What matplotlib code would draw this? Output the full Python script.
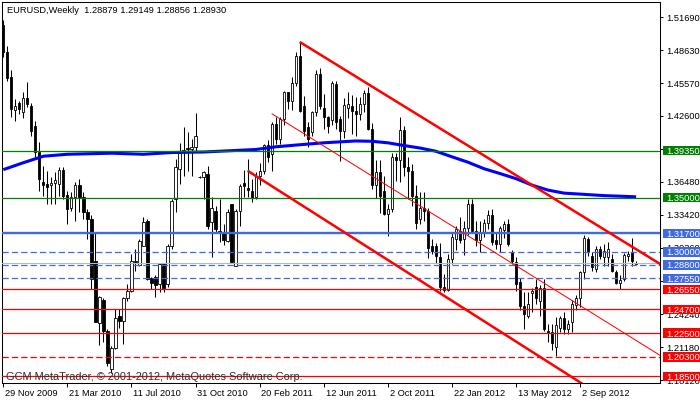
import matplotlib
matplotlib.use("Agg")
import matplotlib.pyplot as plt
import matplotlib.transforms as mtransforms
from matplotlib.patches import Rectangle

plt.rcParams['font.family'] = ['Liberation Sans', 'DejaVu Sans']

# ---------------- data (weekly EURUSD bars, index 0 = week of 29 Nov 2009) ----------------
opens = [
    1.5100, 1.4850, 1.4620, 1.4310, 1.4380, 1.4290, 1.4420, 1.4350, 1.4160, 1.3920,
    1.3650, 1.3630, 1.3620, 1.3640, 1.3630, 1.3760, 1.3530, 1.3410, 1.3505, 1.3620,
    1.3510, 1.3370, 1.3300, 1.2920, 1.2340, 1.2560, 1.2270, 1.1920, 1.2110, 1.2410,
    1.2360, 1.2570, 1.2640, 1.2910, 1.2880, 1.3050, 1.3290, 1.2760, 1.2770, 1.2700,
    1.2890, 1.2700, 1.3050, 1.3490, 1.3770, 1.3920, 1.3960, 1.3950, 1.3970, 1.3695,
    1.3690, 1.3720, 1.3280, 1.3380, 1.3190, 1.3180, 1.3100, 1.3440, 1.2870, 1.3380,
    1.3640, 1.3590, 1.3560, 1.3510, 1.3700, 1.3750, 1.3985, 1.3900, 1.4180, 1.4040,
    1.4225, 1.4475, 1.4390, 1.4560, 1.4810, 1.4350, 1.4150, 1.4110, 1.4290, 1.4640,
    1.4330, 1.4250, 1.4220, 1.4550, 1.4230, 1.4120, 1.4330, 1.4350, 1.4300, 1.4270,
    1.4370, 1.4470, 1.4140, 1.3620, 1.3740, 1.3560, 1.3350, 1.3395, 1.3880, 1.3845,
    1.4130, 1.3780, 1.3750, 1.3520, 1.3300, 1.3410, 1.3375, 1.3050, 1.3050, 1.2950,
    1.2680, 1.2645, 1.2935, 1.3120, 1.3195, 1.3120, 1.3220, 1.3445, 1.3190, 1.3110,
    1.3175, 1.3265, 1.3340, 1.3110, 1.3070, 1.3200, 1.3260, 1.3000, 1.2910, 1.2720,
    1.2500, 1.2410, 1.2620, 1.2680, 1.2550, 1.2670, 1.2265, 1.2260, 1.2125, 1.2300,
    1.2390, 1.2290, 1.2350, 1.2510, 1.2570, 1.2815, 1.3120, 1.2960, 1.2845, 1.3030,
    1.2955, 1.2955, 1.2935, 1.2815, 1.2710, 1.2745, 1.2965, 1.2999, 1.28879]
highs = [
    1.5140, 1.4900, 1.4680, 1.4410, 1.4390, 1.4480, 1.4570, 1.4380, 1.4210, 1.4020,
    1.3790, 1.3750, 1.3690, 1.3740, 1.3780, 1.3780, 1.3560, 1.3550, 1.3650, 1.3670,
    1.3550, 1.3400, 1.3340, 1.3180, 1.2590, 1.2570, 1.2290, 1.2130, 1.2470, 1.2470,
    1.2580, 1.2700, 1.2980, 1.3030, 1.3120, 1.3320, 1.3300, 1.2770, 1.2790, 1.2900,
    1.2900, 1.3070, 1.3490, 1.3860, 1.4010, 1.4150, 1.4110, 1.4040, 1.4280, 1.3705,
    1.3750, 1.3790, 1.3510, 1.3420, 1.3490, 1.3260, 1.3400, 1.3440, 1.3400, 1.3630,
    1.3760, 1.3860, 1.3670, 1.3740, 1.3820, 1.4000, 1.4035, 1.4200, 1.4250, 1.4250,
    1.4485, 1.4480, 1.4620, 1.4850, 1.4940, 1.4440, 1.4200, 1.4300, 1.4680, 1.4700,
    1.4460, 1.4260, 1.4580, 1.4580, 1.4260, 1.4420, 1.4480, 1.4450, 1.4430, 1.4430,
    1.4500, 1.4520, 1.4190, 1.3850, 1.3850, 1.3700, 1.3445, 1.3915, 1.3910, 1.4245,
    1.4165, 1.3875, 1.3810, 1.3620, 1.3550, 1.3550, 1.3405, 1.3120, 1.3080, 1.3080,
    1.2800, 1.2985, 1.3180, 1.3235, 1.3320, 1.3290, 1.3485, 1.3485, 1.3290, 1.3290,
    1.3300, 1.3385, 1.3395, 1.3180, 1.3240, 1.3290, 1.3300, 1.3020, 1.2950, 1.2760,
    1.2625, 1.2625, 1.2670, 1.2750, 1.2690, 1.2750, 1.2335, 1.2335, 1.2400, 1.2405,
    1.2440, 1.2370, 1.2555, 1.2600, 1.2820, 1.3160, 1.3140, 1.2999, 1.3055, 1.3050,
    1.3073, 1.3090, 1.2980, 1.2830, 1.2790, 1.2990, 1.3010, 1.3128, 1.29149]
lows = [
    1.4805, 1.4580, 1.4250, 1.4210, 1.4270, 1.4240, 1.4340, 1.4070, 1.3880, 1.3560,
    1.3520, 1.3440, 1.3440, 1.3440, 1.3520, 1.3490, 1.3260, 1.3380, 1.3290, 1.3370,
    1.3300, 1.3120, 1.2660, 1.2350, 1.2140, 1.2170, 1.1950, 1.1880, 1.2100, 1.2300,
    1.2150, 1.2550, 1.2630, 1.2820, 1.2870, 1.3050, 1.2740, 1.2660, 1.2580, 1.2630,
    1.2630, 1.2680, 1.3030, 1.3370, 1.3630, 1.3700, 1.3750, 1.3700, 1.3930, 1.3685,
    1.3490, 1.3210, 1.2950, 1.3180, 1.3090, 1.3060, 1.3090, 1.2910, 1.2870, 1.3240,
    1.3510, 1.3510, 1.3460, 1.3490, 1.3620, 1.3720, 1.3830, 1.3750, 1.4000, 1.4000,
    1.4170, 1.4320, 1.4310, 1.4530, 1.4290, 1.4070, 1.3970, 1.4070, 1.4260, 1.4320,
    1.4140, 1.4100, 1.4170, 1.4140, 1.3840, 1.4050, 1.4240, 1.4090, 1.4070, 1.4220,
    1.4290, 1.4130, 1.3580, 1.3500, 1.3360, 1.3340, 1.3145, 1.3370, 1.3655, 1.3650,
    1.3700, 1.3485, 1.3420, 1.3210, 1.3260, 1.3285, 1.2945, 1.2985, 1.2900, 1.2640,
    1.2625, 1.2640, 1.2890, 1.3020, 1.3080, 1.2975, 1.3160, 1.3180, 1.3055, 1.3000,
    1.3140, 1.3210, 1.3065, 1.3030, 1.2995, 1.3130, 1.3050, 1.2890, 1.2640, 1.2460,
    1.2285, 1.2390, 1.2440, 1.2520, 1.2405, 1.2270, 1.2170, 1.2095, 1.2040, 1.2260,
    1.2240, 1.2240, 1.2260, 1.2460, 1.2490, 1.2750, 1.2960, 1.2825, 1.2815, 1.2930,
    1.2870, 1.2870, 1.2815, 1.2705, 1.2660, 1.2730, 1.2920, 1.2870, 1.28856]
closes = [
    1.4850, 1.4610, 1.4320, 1.4350, 1.4320, 1.4420, 1.4370, 1.4120, 1.3920, 1.3670,
    1.3620, 1.3600, 1.3640, 1.3660, 1.3760, 1.3520, 1.3400, 1.3505, 1.3620, 1.3510,
    1.3370, 1.3300, 1.2750, 1.2355, 1.2580, 1.2270, 1.1970, 1.2110, 1.2390, 1.2360,
    1.2570, 1.2640, 1.2920, 1.2920, 1.3100, 1.3280, 1.2750, 1.2710, 1.2690, 1.2890,
    1.2670, 1.3050, 1.3470, 1.3780, 1.3910, 1.3940, 1.3950, 1.3970, 1.4070, 1.3690,
    1.3740, 1.3240, 1.3410, 1.3210, 1.3170, 1.3110, 1.3370, 1.2910, 1.3380, 1.3610,
    1.3610, 1.3570, 1.3500, 1.3700, 1.3750, 1.3990, 1.3880, 1.4180, 1.4040, 1.4225,
    1.4475, 1.4390, 1.4560, 1.4810, 1.4300, 1.4120, 1.4040, 1.4290, 1.4640, 1.4350,
    1.4250, 1.4160, 1.4560, 1.4200, 1.4120, 1.4360, 1.4370, 1.4300, 1.4270, 1.4370,
    1.4470, 1.4140, 1.3620, 1.3740, 1.3520, 1.3350, 1.3395, 1.3880, 1.3845, 1.4130,
    1.3780, 1.3750, 1.3520, 1.3270, 1.3410, 1.3375, 1.3040, 1.3010, 1.2960, 1.2680,
    1.2645, 1.2935, 1.3135, 1.3210, 1.3110, 1.3220, 1.3445, 1.3190, 1.3110, 1.3175,
    1.3265, 1.3340, 1.3095, 1.3070, 1.3225, 1.3260, 1.3075, 1.2915, 1.2700, 1.2500,
    1.2430, 1.2515, 1.2640, 1.2570, 1.2670, 1.2290, 1.2250, 1.2155, 1.2320, 1.2390,
    1.2290, 1.2335, 1.2520, 1.2575, 1.2815, 1.3125, 1.3000, 1.2860, 1.3030, 1.2960,
    1.3010, 1.3025, 1.2825, 1.2710, 1.2740, 1.2975, 1.2982, 1.2916, 1.28930]

# moving average (at selected bars)
ma_idx = [0, 5, 10, 16, 27, 35, 42, 50, 63, 68, 74, 80, 88, 92, 96, 100, 104,
          108, 112, 116, 120, 124, 128, 132, 136, 140, 144, 150, 158]
ma_val = [1.3760, 1.3824, 1.3884, 1.3902, 1.3912, 1.3902, 1.3918, 1.3923, 1.3946,
          1.3971, 1.3990, 1.4008, 1.4025, 1.4022, 1.4008, 1.3983, 1.3960, 1.3930,
          1.3879, 1.3829, 1.3769, 1.3724, 1.3677, 1.3617, 1.3571, 1.3543, 1.3534,
          1.3520, 1.3509]

# horizontal levels
level_values = [1.3935, 1.3500, 1.3170, 1.3000, 1.2880, 1.2755, 1.2655, 1.2470,
                1.2250, 1.2030, 1.1850]
level_labels = ['1.39350', '1.35000', '1.31700', '1.30000', '1.28800', '1.27550',
                '1.26550', '1.24700', '1.22500', '1.20300', '1.18500']
level_colors = ['#008000', '#008000', '#4169E1', '#4169E1', '#4169E1', '#4169E1',
                '#FF0000', '#FF0000', '#FF0000', '#FF0000', '#FF0000']
level_dashed = [False, False, False, True, True, True, False, False, False, True, False]
level_widths = [0.9, 0.9, 1.7, 0.9, 0.9, 0.9, 0.9, 0.9, 0.9, 0.9, 0.9]
bid_price = 1.2893

# trend lines: two anchor points (bar index, price), extended to the right
trend_x = [[74, 149], [67, 124], [61, 144]]
trend_y = [[1.4940, 1.3230], [1.4278, 1.2965], [1.3750, 1.1795]]
trend_w = [1.8, 0.72, 1.8]

# axis labels (ticks whose labels are fully covered by level boxes keep only the tick)
price_ticks = [1.5169, 1.4863, 1.4557, 1.4260, 1.3954, 1.3648, 1.3342, 1.3036,
               1.2730, 1.2424, 1.2118, 1.1812]
price_tick_labels = ['1.51690', '1.48630', '1.45570', '1.42600', '', '1.36480',
                     '1.33420', '1.30360', '', '1.24240', '1.21180', '1.18120']
date_idx = [0, 16, 32, 48, 64, 80, 96, 112, 128, 144]
date_labels = ['29 Nov 2009', '21 Mar 2010', '11 Jul 2010', '31 Oct 2010',
               '20 Feb 2011', '12 Jun 2011', '2 Oct 2011', '22 Jan 2012',
               '13 May 2012', '2 Sep 2012']
header = 'EURUSD,Weekly  1.28879 1.29149 1.28856 1.28930'
copyright_txt = 'GCM MetaTrader, \u00a9 2001-2012, MetaQuotes Software Corp.'

# ---------------- figure ----------------
W, H = 700, 402
FS = 6.7
fig = plt.figure(figsize=(W / 100, H / 100), dpi=100)
ax = fig.add_axes([1.7 / W, (H - 384.3) / H, 658.6 / W, 381.6 / H])
XMIN, XMAX = -0.4, 164.04
ax.set_xlim(XMIN, XMAX)
ax.set_ylim(1.17858, 1.53118)
for s in ax.spines.values():
    s.set_linewidth(0.75)
    s.set_color('black')

# candles
n = len(closes)
xs = list(range(n))
ax.vlines(xs, lows, highs, color='black', linewidth=0.75, zorder=2)
for i in range(n):
    o, c = opens[i], closes[i]
    bull = c >= o
    ax.bar(i, abs(c - o), bottom=min(o, c), width=0.55,
           color='white' if bull else 'black', edgecolor='black',
           linewidth=0.6, zorder=2.5)

# moving average
ax.plot(ma_idx, ma_val, color='#0000FF', linewidth=2.2, zorder=3,
        solid_capstyle='butt')

# bid line
ax.axhline(bid_price, color='#B8B8B8', linewidth=0.75, zorder=3.2)

# horizontal levels
for v, col, d, w in zip(level_values, level_colors, level_dashed, level_widths):
    ls = (0, (5, 2.5)) if d else '-'
    ax.axhline(v, color=col, linewidth=w, linestyle=ls, zorder=4)

# trend lines
for tx, ty, w in zip(trend_x, trend_y, trend_w):
    slope = (ty[1] - ty[0]) / (tx[1] - tx[0])
    x_end = XMAX + 2
    y_end = ty[0] + slope * (x_end - tx[0])
    ax.plot([tx[0], x_end], [ty[0], y_end], color='#FF0000', linewidth=w,
            zorder=5, solid_capstyle='butt')

# right price axis
ax.yaxis.set_ticks_position('right')
ax.set_yticks(price_ticks)
ax.set_yticklabels([])
ax.tick_params(axis='y', direction='out', length=2.5, width=0.7, colors='black')
ax.set_xticks(date_idx)
ax.set_xticklabels([])
ax.tick_params(axis='x', direction='out', length=2.7, width=0.7, colors='black')

tr_y = mtransforms.blended_transform_factory(fig.transFigure, ax.transData)
for v, lab in zip(price_ticks, price_tick_labels):
    if lab:
        ax.text(666 / W, v, lab, transform=tr_y, ha='left', va='center',
                fontsize=FS, color='black', clip_on=False, zorder=6)

hh = 4.7 * (1.53118 - 1.17858) / 381.6
for v, lab, col in zip(level_values, level_labels, level_colors):
    ax.add_patch(Rectangle((662.5 / W, v - hh), 37.5 / W, 2 * hh, transform=tr_y,
                           facecolor=col, edgecolor='none', clip_on=False,
                           zorder=10))
    ax.text(666.5 / W, v, lab, transform=tr_y, ha='left', va='center',
            fontsize=FS, color='white', clip_on=False, zorder=11)

# date labels
tr_x = mtransforms.blended_transform_factory(ax.transData, fig.transFigure)
for i, lab in zip(date_idx, date_labels):
    ax.text(i + 0.45, (H - 393.5) / H, lab, transform=tr_x, ha='left',
            va='center', fontsize=FS, color='black', clip_on=False)

# header and copyright
fig.text(7 / W, 1 - 10.5 / H, header, ha='left', va='center', fontsize=FS,
         color='black')
fig.text(6 / W, 1 - 377 / H, copyright_txt, ha='left', va='center',
         fontsize=7.9, color='#303030', zorder=20)

fig.savefig('out.png', dpi=100)
